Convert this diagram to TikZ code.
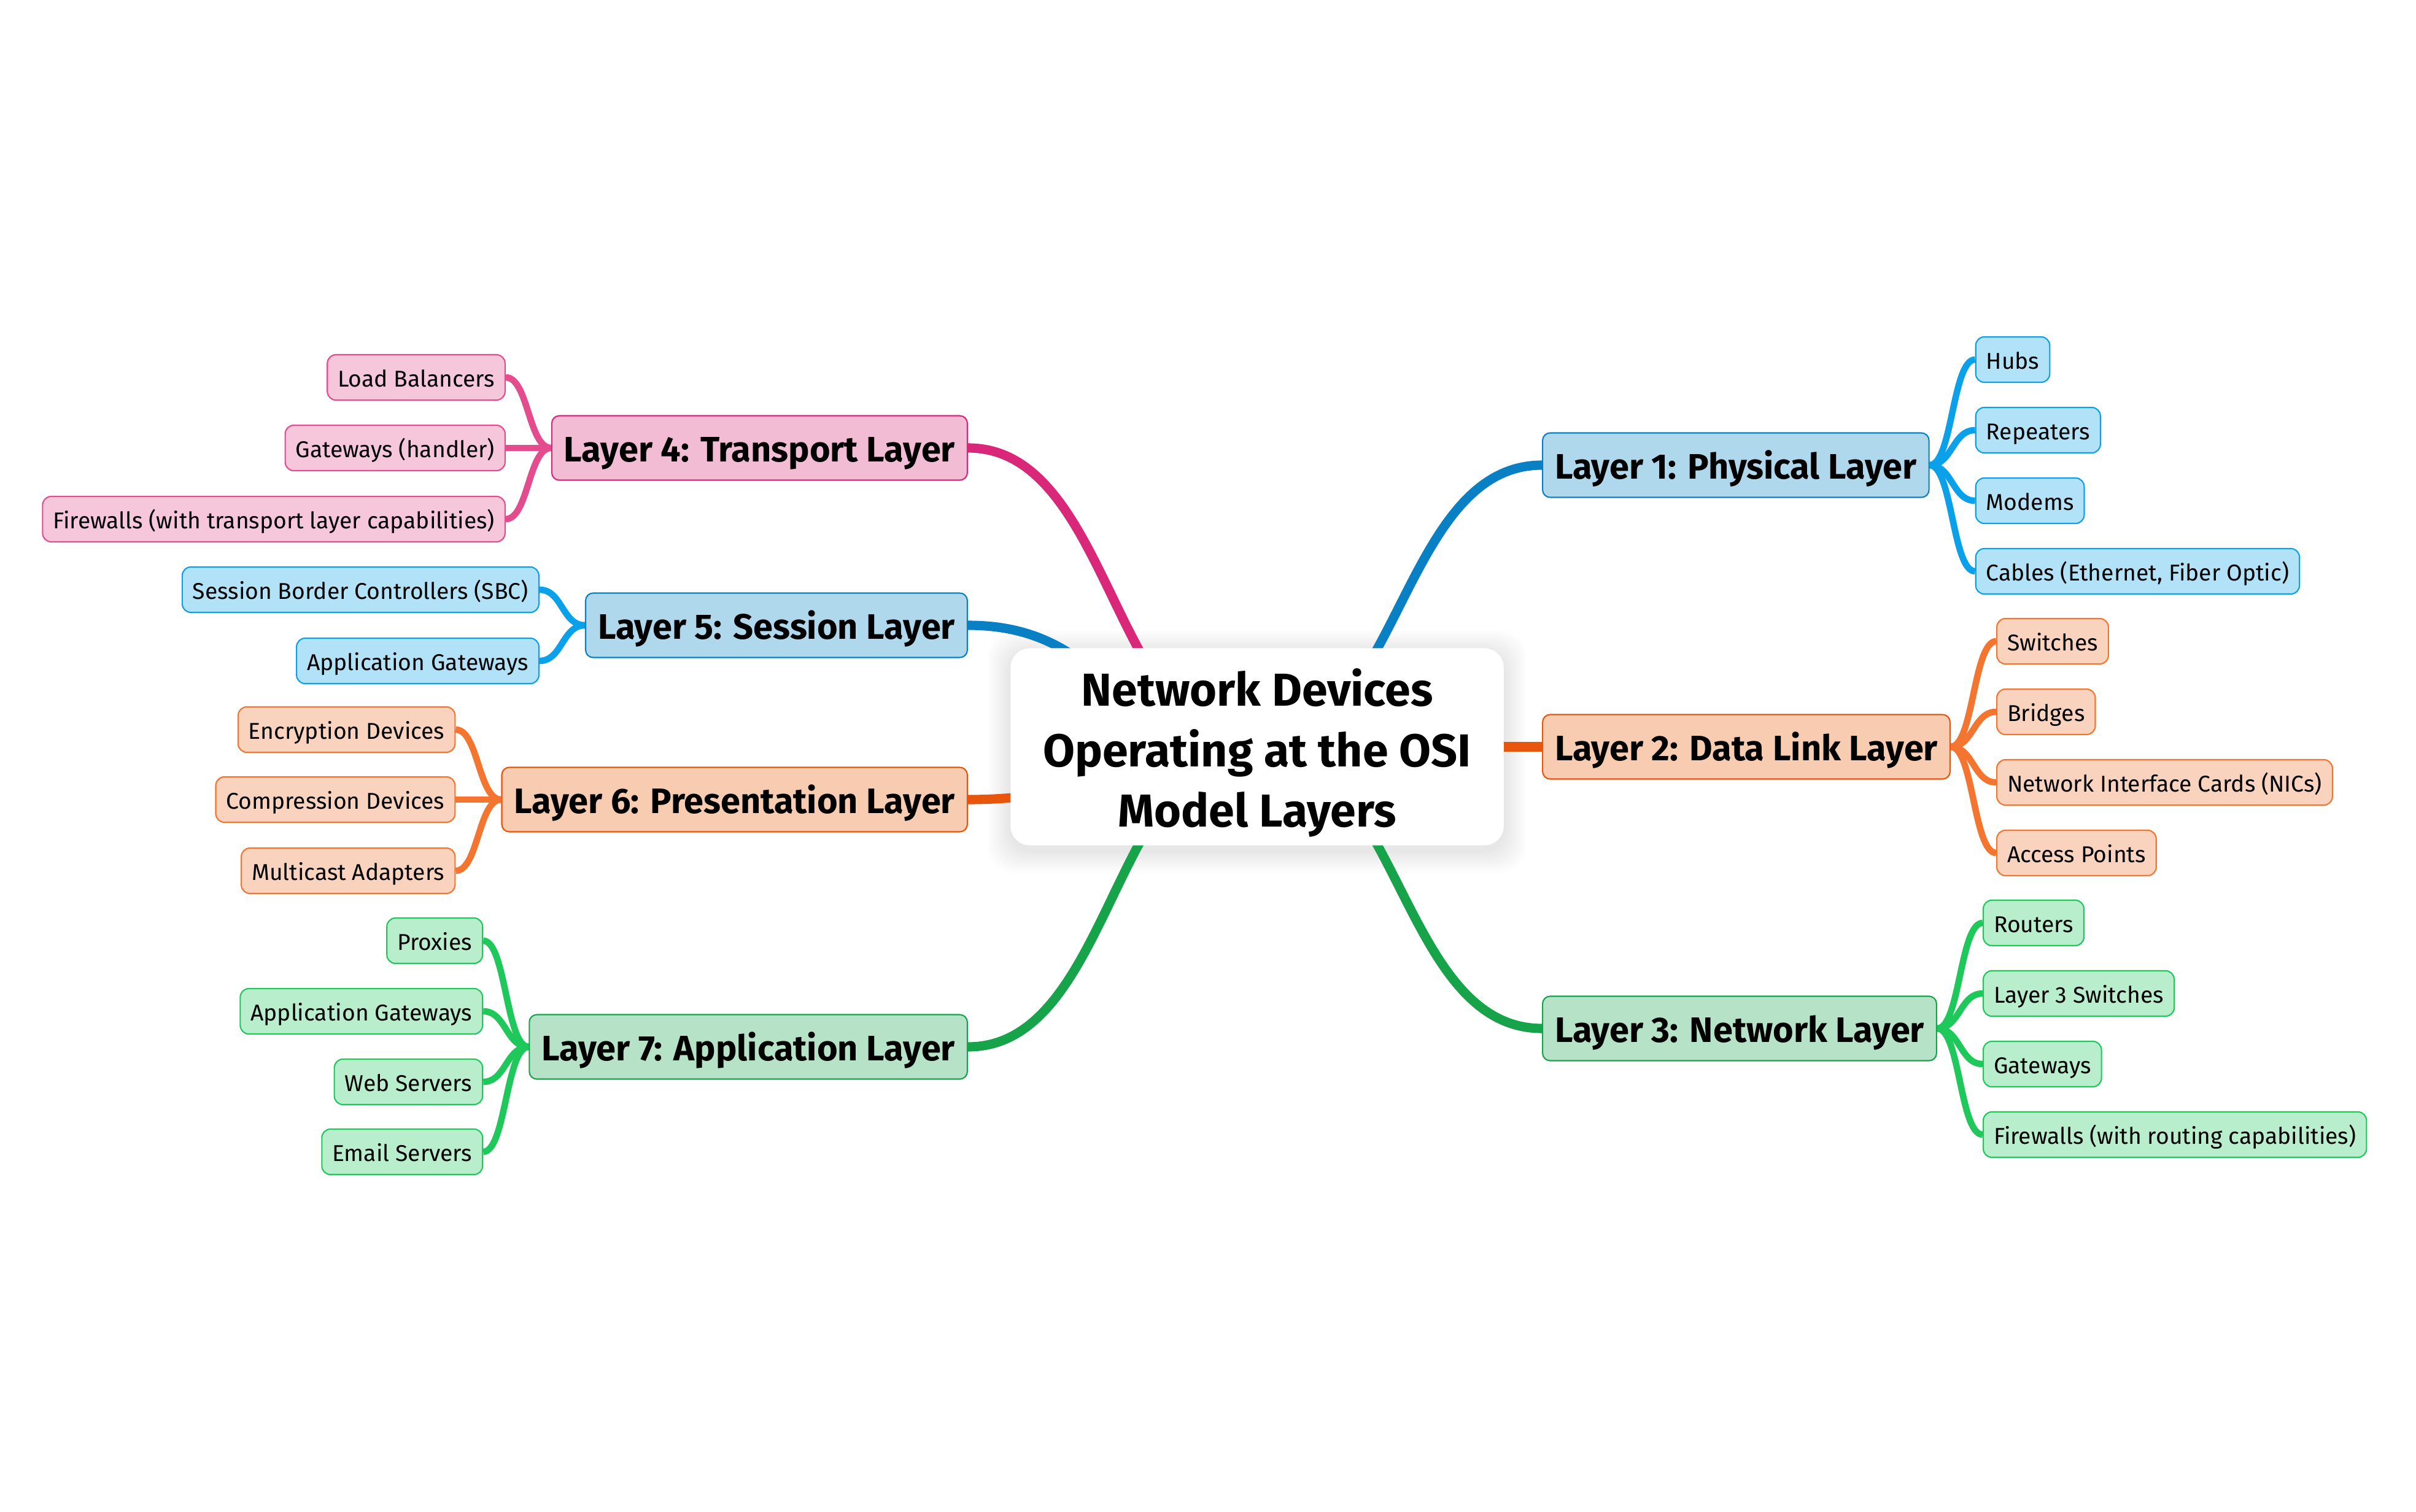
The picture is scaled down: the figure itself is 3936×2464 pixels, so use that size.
\documentclass[tikz,border=0pt]{standalone}
\usepackage{fontspec}
\setmainfont{Fira Sans}
\usetikzlibrary{calc}
\pgfdeclarelayer{back}
\pgfdeclarelayer{links}
\pgfsetlayers{back,links,main}

\definecolor{blueA}{HTML}{0A80C4}
\definecolor{blueFill}{HTML}{B0D8EC}
\definecolor{blueB}{HTML}{0BA0EA}
\definecolor{blueLeaf}{HTML}{B2E2F8}
\definecolor{orangeA}{HTML}{E8560E}
\definecolor{orangeFill}{HTML}{F7CCB1}
\definecolor{orangeB}{HTML}{F47530}
\definecolor{orangeLeaf}{HTML}{FAD3BE}
\definecolor{greenA}{HTML}{17A34A}
\definecolor{greenFill}{HTML}{B6E3C7}
\definecolor{greenB}{HTML}{1EC85A}
\definecolor{greenLeaf}{HTML}{B8EECB}
\definecolor{pinkA}{HTML}{D9287A}
\definecolor{pinkFill}{HTML}{F2BCD4}
\definecolor{pinkB}{HTML}{E44C8E}
\definecolor{pinkLeaf}{HTML}{F6C6DB}

\newcommand{\branchto}[3]{\draw[#1] let \p1=(#2), \p2=(#3) in (\p1) .. controls ({(\x1+\x2)/2},\y1) and ({(\x1+\x2)/2},\y2) .. (\p2);}

\begin{document}
\begin{tikzpicture}[x=0.01cm,y=-0.01cm,
  layer/.style={draw=#1A, fill=#1Fill, line width=0.6pt, rounded corners=3.5pt, minimum height=1.05cm, inner xsep=0.2cm, inner ysep=0pt, text height=15pt, text depth=2pt, font=\fontsize{16.4}{20}\selectfont\bfseries},
  leaf/.style={draw=#1B, fill=#1Leaf, line width=0.6pt, rounded corners=4pt, minimum height=0.74cm, inner xsep=0.17cm, inner ysep=0pt, text height=10pt, text depth=1pt, font=\fontsize{10.6}{13}\selectfont},
  trunk/.style={#1A, line width=4.3pt},
  twig/.style={#1B, line width=3pt}]
\useasboundingbox (0,0) rectangle (3936,2464);

\node[fill=white, rounded corners=9pt, minimum width=8.03cm, minimum height=3.21cm, align=center, font=\fontsize{21.4}{27.9}\selectfont\bfseries] (root) at (2048,1217) {\rule{0pt}{23pt}Network Devices\\Operating at the OSI\\Model Layers};

\node[layer=blue, anchor=west] (l1) at (2512,758) {Layer 1: Physical Layer};
\node[layer=orange, anchor=west] (l2) at (2512,1217) {Layer 2: Data Link Layer};
\node[layer=green, anchor=west] (l3) at (2512,1676) {Layer 3: Network Layer};
\node[layer=pink, anchor=east] (l4) at (1577,730) {Layer 4: Transport Layer};
\node[layer=blue, anchor=east] (l5) at (1577,1019) {Layer 5: Session Layer};
\node[layer=orange, anchor=east] (l6) at (1577,1303) {Layer 6: Presentation Layer};
\node[layer=green, anchor=east] (l7) at (1577,1706) {Layer 7: Application Layer};

\node[leaf=blue, anchor=west] (hubs) at ($(l1.east)+(74,-172)$) {Hubs};
\node[leaf=blue, anchor=west] (repeaters) at ($(l1.east)+(74,-57)$) {Repeaters};
\node[leaf=blue, anchor=west] (modems) at ($(l1.east)+(74,58)$) {Modems};
\node[leaf=blue, anchor=west] (cables) at ($(l1.east)+(74,173)$) {Cables (Ethernet, Fiber Optic)};

\node[leaf=orange, anchor=west] (switches) at ($(l2.east)+(74,-172)$) {Switches};
\node[leaf=orange, anchor=west] (bridges) at ($(l2.east)+(74,-57)$) {Bridges};
\node[leaf=orange, anchor=west] (nics) at ($(l2.east)+(74,58)$) {Network Interface Cards (NICs)};
\node[leaf=orange, anchor=west] (aps) at ($(l2.east)+(74,173)$) {Access Points};

\node[leaf=green, anchor=west] (routers) at ($(l3.east)+(74,-172)$) {Routers};
\node[leaf=green, anchor=west] (lthree) at ($(l3.east)+(74,-57)$) {Layer 3 Switches};
\node[leaf=green, anchor=west] (gateways) at ($(l3.east)+(74,58)$) {Gateways};
\node[leaf=green, anchor=west] (fwroute) at ($(l3.east)+(74,173)$) {Firewalls (with routing capabilities)};

\node[leaf=pink, anchor=east] (balancers) at ($(l4.west)+(-74,-115)$) {Load Balancers};
\node[leaf=pink, anchor=east] (handler) at ($(l4.west)+(-74,0)$) {Gateways (handler)};
\node[leaf=pink, anchor=east] (fwtrans) at ($(l4.west)+(-74,116)$) {Firewalls (with transport layer capabilities)};

\node[leaf=blue, anchor=east] (sbc) at ($(l5.west)+(-74,-58)$) {Session Border Controllers (SBC)};
\node[leaf=blue, anchor=east] (appgw) at ($(l5.west)+(-74,58)$) {Application Gateways};

\node[leaf=orange, anchor=east] (encrypt) at ($(l6.west)+(-74,-114)$) {Encryption Devices};
\node[leaf=orange, anchor=east] (compress) at ($(l6.west)+(-74,0)$) {Compression Devices};
\node[leaf=orange, anchor=east] (multicast) at ($(l6.west)+(-74,116)$) {Multicast Adapters};

\node[leaf=green, anchor=east] (proxies) at ($(l7.west)+(-74,-173)$) {Proxies};
\node[leaf=green, anchor=east] (appgwb) at ($(l7.west)+(-74,-58)$) {Application Gateways};
\node[leaf=green, anchor=east] (web) at ($(l7.west)+(-74,57)$) {Web Servers};
\node[leaf=green, anchor=east] (email) at ($(l7.west)+(-74,171)$) {Email Servers};

\begin{pgfonlayer}{back}
\fill[white] (0,0) rectangle (3936,2464);
\foreach \s in {1,...,12}
  \fill[black, opacity=0.008, rounded corners=12pt] ($(root.south west)+(-3*\s,3*\s+8)$) rectangle ($(root.north east)+(3*\s,-3*\s+8)$);
\end{pgfonlayer}

\begin{pgfonlayer}{links}
\branchto{trunk=blue}{root.center}{l1.west}
\branchto{trunk=orange}{root.center}{l2.west}
\branchto{trunk=green}{root.center}{l3.west}
\branchto{trunk=pink}{root.center}{l4.east}
\branchto{trunk=blue}{root.center}{l5.east}
\branchto{trunk=orange}{root.center}{l6.east}
\branchto{trunk=green}{root.center}{l7.east}

\foreach \k in {hubs,repeaters,modems,cables}
  {\branchto{twig=blue}{l1.east}{\k.west}}
\foreach \k in {switches,bridges,nics,aps}
  {\branchto{twig=orange}{l2.east}{\k.west}}
\foreach \k in {routers,lthree,gateways,fwroute}
  {\branchto{twig=green}{l3.east}{\k.west}}
\foreach \k in {balancers,handler,fwtrans}
  {\branchto{twig=pink}{l4.west}{\k.east}}
\foreach \k in {sbc,appgw}
  {\branchto{twig=blue}{l5.west}{\k.east}}
\foreach \k in {encrypt,compress,multicast}
  {\branchto{twig=orange}{l6.west}{\k.east}}
\foreach \k in {proxies,appgwb,web,email}
  {\branchto{twig=green}{l7.west}{\k.east}}
\end{pgfonlayer}
\end{tikzpicture}
\end{document}
